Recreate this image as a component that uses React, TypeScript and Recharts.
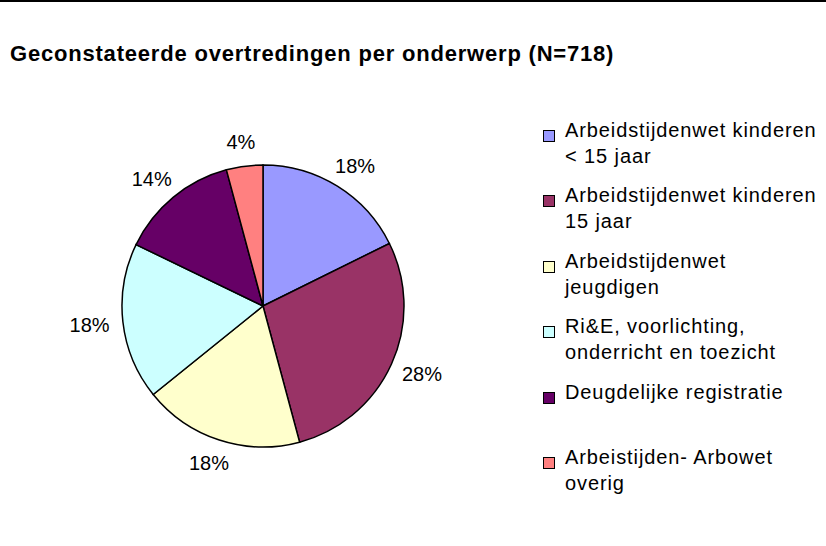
import React from 'react';
import { PieChart, Pie, Cell, Legend } from 'recharts';

const TITLE = 'Geconstateerde overtredingen per onderwerp (N=718)';

// onderwerpen, legend text (\n = line break as in the original legend)
const categories = [
  'Arbeidstijdenwet kinderen\n< 15 jaar',
  'Arbeidstijdenwet kinderen\n15 jaar',
  'Arbeidstijdenwet\njeugdigen',
  'Ri&E, voorlichting,\nonderricht en toezicht',
  'Deugdelijke registratie',
  'Arbeistijden- Arbowet\noverig',
];

// aantallen overtredingen (totaal 718)
const counts = [127, 202, 132, 129, 98, 30];

const COLORS = ['#9999FF', '#993366', '#FFFFCC', '#CCFFFF', '#660066', '#FF8080'];

const FONT = '"Liberation Sans", Arial, sans-serif';
const RADIAN = Math.PI / 180;

const data = categories.map((name, i) => ({ name, value: counts[i] }));

// label box sits just outside the pie, pushed outward by half its size (Excel-like)
const renderLabel = (props: any) => {
  const { cx, cy, midAngle, outerRadius, percent } = props;
  const text = `${Math.round(percent * 100)}%`;
  const w = text.length * 11 + 6;
  const h = 20;
  const r = outerRadius + 14;
  const cos = Math.cos(-midAngle * RADIAN);
  const sin = Math.sin(-midAngle * RADIAN);
  const x = cx + r * cos + (w / 2) * cos;
  const y = cy + r * sin + (h / 2) * sin;
  return (
    <text
      x={x}
      y={y}
      fill="#000"
      fontSize={20}
      fontFamily={FONT}
      textAnchor="middle"
      dominantBaseline="central"
    >
      {text}
    </text>
  );
};

const renderLegend = () => (
  <div style={{ fontFamily: FONT, fontSize: 20, letterSpacing: 0.9, color: '#000' }}>
    {categories.map((name, i) => (
      <div
        key={name}
        style={{ position: 'absolute', left: 0, top: i * 65.4, display: 'flex' }}
      >
        <div
          style={{
            width: 10,
            height: 10,
            marginTop: 7,
            background: COLORS[i],
            border: '1px solid #000',
            flexShrink: 0,
          }}
        />
        <div style={{ marginLeft: 10, lineHeight: '26px', marginTop: -6 }}>
          {name.split('\n').map((line) => (
            <div key={line} style={{ whiteSpace: 'nowrap' }}>{line}</div>
          ))}
        </div>
      </div>
    ))}
  </div>
);

export default function App() {
  return (
    <div
      style={{
        position: 'absolute',
        left: 0,
        top: 0,
        width: 826,
        height: 546,
        background: '#fff',
        overflow: 'hidden',
      }}
    >
      <div style={{ position: 'absolute', left: 0, top: 0, width: 826, height: 2, background: '#000' }} />
      <div
        style={{
          position: 'absolute',
          left: 10,
          top: 41,
          fontFamily: FONT,
          fontWeight: 'bold',
          fontSize: 22,
          letterSpacing: 0.8,
          whiteSpace: 'nowrap',
          color: '#000',
        }}
      >
        {TITLE}
      </div>
      <div style={{ position: 'absolute', left: 0, top: 0 }}>
        <PieChart width={826} height={546} margin={{ top: 0, right: 0, bottom: 0, left: 0 }}>
          <Pie
            data={data}
            dataKey="value"
            nameKey="name"
            cx={263}
            cy={306}
            outerRadius={141}
            startAngle={90}
            endAngle={-270}
            stroke="#000"
            strokeWidth={1.5}
            label={renderLabel}
            labelLine={false}
            isAnimationActive={false}
          >
            {data.map((entry, index) => (
              <Cell key={`cell-${index}`} fill={COLORS[index % COLORS.length]} />
            ))}
          </Pie>
          <Legend
            content={renderLegend}
            wrapperStyle={{ position: 'absolute', left: 543, top: 123, width: 283, height: 380 }}
          />
        </PieChart>
      </div>
    </div>
  );
}
